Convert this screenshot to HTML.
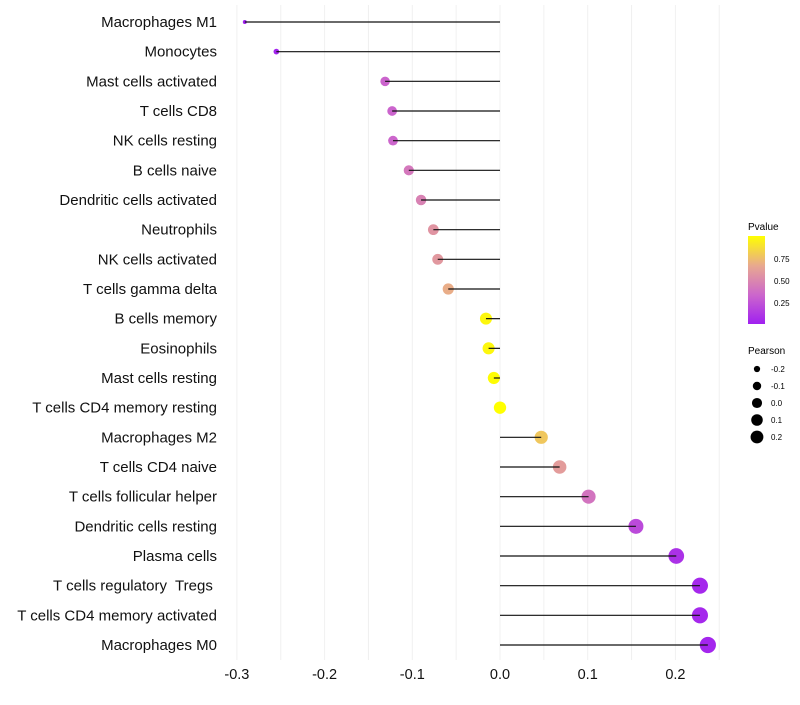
<!DOCTYPE html>
<html><head><meta charset="utf-8"><style>
body{margin:0;background:#fff;font-family:"Liberation Sans",sans-serif}
svg text{font-family:"Liberation Sans",sans-serif;white-space:pre}
</style></head><body>
<svg id="chart" width="800" height="700" xmlns="http://www.w3.org/2000/svg">
<defs><linearGradient id="pgrad" x1="0" y1="1" x2="0" y2="0">
<stop offset="0" stop-color="#a020f0"/><stop offset="0.33" stop-color="#cc66cc"/><stop offset="0.66" stop-color="#e8a890"/><stop offset="1" stop-color="#ffff00"/></linearGradient></defs>
<g id="grid"></g>
<g id="marks"></g>
<g id="ylabels"></g>
<g id="xlabels"></g>
<g>
<text x="748" y="230" font-size="10">Pvalue</text>
<rect x="748" y="236" width="17" height="88" fill="url(#pgrad)"/>
<text x="774" y="262" font-size="8">0.75</text>
<text x="774" y="284" font-size="8">0.50</text>
<text x="774" y="306" font-size="8">0.25</text>
</g>
<g id="sizeleg">
<text x="748" y="354" font-size="10">Pearson</text>
</g>
</svg>
<script>
const categories=["Macrophages M1","Monocytes","Mast cells activated","T cells CD8","NK cells resting","B cells naive","Dendritic cells activated","Neutrophils","NK cells activated","T cells gamma delta","B cells memory","Eosinophils","Mast cells resting","T cells CD4 memory resting","Macrophages M2","T cells CD4 naive","T cells follicular helper","Dendritic cells resting","Plasma cells","T cells regulatory  Tregs ","T cells CD4 memory activated","Macrophages M0"];
const pearson=[-0.291,-0.255,-0.131,-0.123,-0.122,-0.104,-0.090,-0.076,-0.071,-0.059,-0.016,-0.013,-0.007,0.0,0.047,0.068,0.101,0.155,0.201,0.228,0.228,0.237];
const pvalue=[0.0,0.02,0.32,0.32,0.33,0.42,0.47,0.56,0.58,0.68,0.97,0.97,0.99,1.0,0.78,0.6,0.4,0.2,0.08,0.04,0.04,0.03];
const xTicks=[-0.3,-0.2,-0.1,0.0,0.1,0.2];
const xTickLabels=["-0.3","-0.2","-0.1","0.0","0.1","0.2"];
const sizeLegend=[-0.2,-0.1,0.0,0.1,0.2];
const sizeLegendLabels=["-0.2","-0.1","0.0","0.1","0.2"];
const NS="http://www.w3.org/2000/svg";
const X=v=>500+v*877;
const Y=i=>22+i*(623/21);
const R=v=>Math.sqrt(Math.max(1,38+117*v));
function lerp(a,b,t){return a.map((x,i)=>Math.round(x+(b[i]-x)*t));}
const stops=[[0,[160,32,240]],[0.33,[204,102,204]],[0.66,[232,168,144]],[1,[255,255,0]]];
function col(p){for(let i=0;i<stops.length-1;i++){if(p<=stops[i+1][0]){const t=(p-stops[i][0])/(stops[i+1][0]-stops[i][0]);const c=lerp(stops[i][1],stops[i+1][1],t);return `rgb(${c})`;}}return "rgb(255,255,0)";}
function mk(tag,attrs,parent){const e=document.createElementNS(NS,tag);for(const k in attrs)e.setAttribute(k,attrs[k]);parent.appendChild(e);return e;}
const grid=document.getElementById('grid'),marks=document.getElementById('marks'),yl=document.getElementById('ylabels'),xl=document.getElementById('xlabels'),sl=document.getElementById('sizeleg');
for(let v=-0.3;v<=0.25;v+=0.05){const l=mk('line',{x1:X(v),x2:X(v),y1:5,y2:660,stroke:'#f0f0f0','stroke-width':1},grid);

}
xTicks.forEach((v,i)=>{const t=mk('text',{x:X(v),y:679,'font-size':14.5,'text-anchor':'middle',fill:'#111'},xl);t.textContent=xTickLabels[i];

});
categories.forEach((c,i)=>{
const y=Y(i);
const dot=mk('circle',{cx:X(pearson[i]),cy:y,r:R(pearson[i]),fill:col(pvalue[i])},marks);


const ln=mk('line',{x1:X(0),x2:X(pearson[i]),y1:y,y2:y,stroke:'#111','stroke-width':1.2},marks);


const t=mk('text',{x:217,y:y+5,'font-size':15,'text-anchor':'end',fill:'#111'},yl);t.textContent=c;


});
sizeLegend.forEach((v,i)=>{const y=369+i*17;
const c=mk('circle',{cx:757,cy:y,r:R(v)*0.82,fill:'#000'},sl);


const t=mk('text',{x:771,y:y+3,'font-size':8},sl);t.textContent=sizeLegendLabels[i];

});
</script>
</body></html>
